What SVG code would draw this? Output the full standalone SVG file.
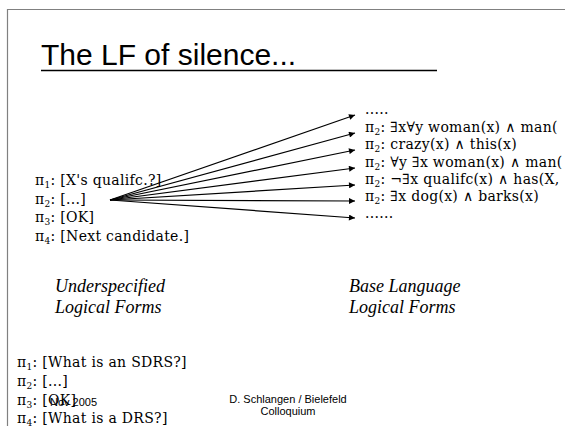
<svg xmlns="http://www.w3.org/2000/svg" width="565" height="426" viewBox="0 0 565 426">
  <style>
    .title { font-family: "Liberation Sans", Arial, sans-serif; font-size: 30px; fill: #000; }
    .lf { font-family: "DejaVu Serif", "Liberation Serif", serif; font-size: 14px; letter-spacing: 0.3px; fill: #000; }
    .sub { font-size: 9px; }
    .cap { font-family: "Liberation Serif", "Times New Roman", serif; font-style: italic; font-size: 18px; fill: #000; }
    .foot { font-family: "Liberation Sans", Arial, sans-serif; font-size: 11px; fill: #000; }
    .arrow { stroke: #000; stroke-width: 1.2; fill: none; marker-end: url(#head); }
  </style>
  <defs>
    <marker id="head" viewBox="0 0 10 10" refX="10" refY="5" markerWidth="8" markerHeight="6" markerUnits="userSpaceOnUse" orient="auto">
      <path d="M0,0 L10,5 L0,10 z" fill="#000"/>
    </marker>
  </defs>

  <rect width="565" height="426" fill="#fff"/>

  <!-- slide frame -->
  <path d="M7.5,426 V9.5 H565" fill="none" stroke="#808080" stroke-width="1.2"/>

  <g id="title">
    <text class="title" x="41" y="65">The LF of silence...</text>
    <line x1="41" y1="70.5" x2="437" y2="70.5" stroke="#000" stroke-width="1.5"/>
  </g>

  <g id="dialogue">
    <text class="lf" x="35" y="185">π<tspan class="sub" dy="3">1</tspan><tspan dy="-3">: [X's qualifc.?]</tspan></text>
    <text class="lf" x="35" y="203.5">π<tspan class="sub" dy="3">2</tspan><tspan dy="-3">: [...]</tspan></text>
    <text class="lf" x="35" y="222">π<tspan class="sub" dy="3">3</tspan><tspan dy="-3">: [OK]</tspan></text>
    <text class="lf" x="35" y="240.5">π<tspan class="sub" dy="3">4</tspan><tspan dy="-3">: [Next candidate.]</tspan></text>
  </g>

  <g id="readings">
    <text class="lf" x="365" y="114">.....</text>
    <text class="lf" x="365" y="132">π<tspan class="sub" dy="3">2</tspan><tspan dy="-3">: ∃x∀y woman(x) ∧ man(</tspan></text>
    <text class="lf" x="365" y="149">π<tspan class="sub" dy="3">2</tspan><tspan dy="-3">: crazy(x) ∧ this(x)</tspan></text>
    <text class="lf" x="365" y="167">π<tspan class="sub" dy="3">2</tspan><tspan dy="-3">: ∀y ∃x woman(x) ∧ man(</tspan></text>
    <text class="lf" x="365" y="184">π<tspan class="sub" dy="3">2</tspan><tspan dy="-3">: ¬∃x qualifc(x) ∧ has(X,</tspan></text>
    <text class="lf" x="365" y="201">π<tspan class="sub" dy="3">2</tspan><tspan dy="-3">: ∃x dog(x) ∧ barks(x)</tspan></text>
    <text class="lf" x="365" y="218">......</text>
  </g>

  <g id="connectors">
    <line class="arrow" x1="110" y1="200" x2="355" y2="115"/>
    <line class="arrow" x1="110" y1="200" x2="355" y2="133"/>
    <line class="arrow" x1="110" y1="200" x2="355" y2="150"/>
    <line class="arrow" x1="110" y1="200" x2="355" y2="168"/>
    <line class="arrow" x1="110" y1="200" x2="355" y2="185"/>
    <line class="arrow" x1="110" y1="200" x2="355" y2="201"/>
    <line class="arrow" x1="110" y1="200" x2="355" y2="218"/>
  </g>

  <g id="label-underspecified">
    <text class="cap" x="55" y="292">Underspecified</text>
    <text class="cap" x="55" y="313">Logical Forms</text>
  </g>

  <g id="label-base">
    <text class="cap" x="349" y="292">Base Language</text>
    <text class="cap" x="349" y="313">Logical Forms</text>
  </g>

  <g id="example">
    <text class="lf" x="17" y="367">π<tspan class="sub" dy="3">1</tspan><tspan dy="-3">: [What is an SDRS?]</tspan></text>
    <text class="lf" x="17" y="386">π<tspan class="sub" dy="3">2</tspan><tspan dy="-3">: [...]</tspan></text>
    <text class="lf" x="17" y="405">π<tspan class="sub" dy="3">3</tspan><tspan dy="-3">: [OK]</tspan></text>
    <text class="lf" x="17" y="423">π<tspan class="sub" dy="3">4</tspan><tspan dy="-3">: [What is a DRS?]</tspan></text>
  </g>

  <g id="footer">
    <text class="foot" x="50" y="406">Nov 2005</text>
    <text class="foot" x="288" y="403" text-anchor="middle">D. Schlangen / Bielefeld</text>
    <text class="foot" x="288" y="415" text-anchor="middle">Colloquium</text>
  </g>
</svg>
